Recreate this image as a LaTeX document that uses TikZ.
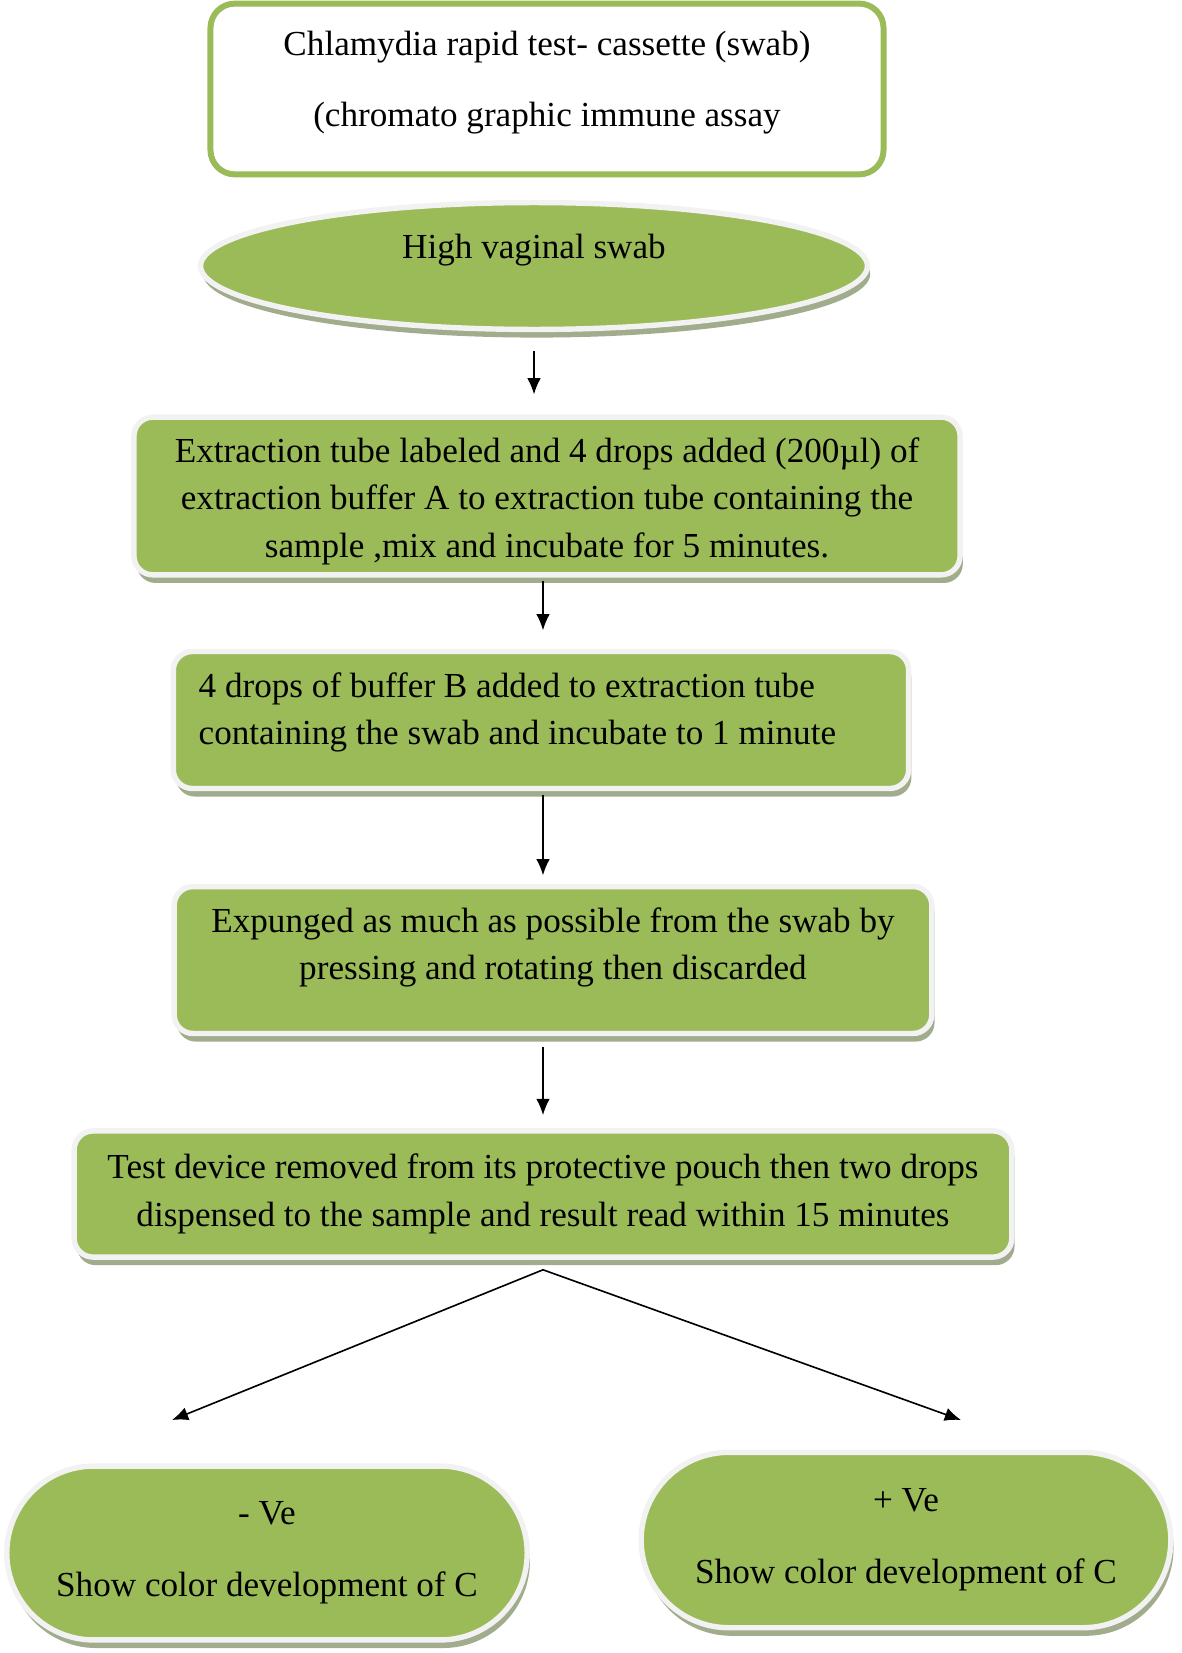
\documentclass[tikz,border=0pt]{standalone}
\usepackage{fontspec}
\setmainfont{Liberation Serif}
\usetikzlibrary{arrows.meta,shapes.geometric,shapes.misc,shadows}
\definecolor{leafgreen}{RGB}{155,187,89}
\definecolor{rimgray}{RGB}{242,242,242}
\definecolor{shadegreen}{RGB}{160,172,140}

\begin{document}
\begin{tikzpicture}[
  x=0.013cm, y=-0.013cm,
  font=\fontsize{13}{17.5}\selectfont,
  title/.style={draw=leafgreen,line width=2.2pt,fill=white,rounded corners=9pt,align=center},
  sample/.style={ellipse,draw=rimgray,line width=2pt,fill=leafgreen,
    drop shadow={shadow xshift=1pt,shadow yshift=-3pt,fill=shadegreen,opacity=1}},
  stage/.style={rectangle,rounded corners=7pt,draw=rimgray,line width=2pt,fill=leafgreen,align=center,
    drop shadow={shadow xshift=1pt,shadow yshift=-3pt,fill=shadegreen,opacity=1}},
  result/.style={rounded rectangle,draw=rimgray,line width=2pt,fill=leafgreen,align=center,
    drop shadow={shadow xshift=1pt,shadow yshift=-3pt,fill=shadegreen,opacity=1}},
  flow/.style={-{Latex[length=6pt,width=5pt]},semithick}]

  \useasboundingbox (0,0) rectangle (1181,1653);

  % Place the nodes at their positions
  \node[title,minimum width=8.75cm,minimum height=2.22cm,text depth=7.6pt] (kit) at (547,89)
    {Chlamydia rapid test- cassette (swab)\\[8.5pt](chromato graphic immune assay};
  \node[sample,minimum width=8.67cm,minimum height=1.65cm,text depth=14.8pt] (hvs) at (534,266)
    {High vaginal swab};
  \node[stage,minimum width=10.74cm,minimum height=2.05cm,text height=48pt] (ext) at (547,496)
    {Extraction tube labeled and 4 drops added (200µl) of\\extraction buffer A to extraction tube containing the\\sample ,mix and incubate for 5 minutes.};
  \node[stage,align=flush left,text width=8.9cm,minimum width=9.56cm,minimum height=1.78cm,text depth=26pt] (buf) at (541,720)
    {4 drops of buffer B added to extraction tube\\containing the swab and incubate to 1 minute};
  \node[stage,minimum width=9.85cm,minimum height=1.91cm,text depth=12.3pt] (exp) at (553,960)
    {Expunged as much as possible from the swab by\\pressing and rotating then discarded};
  \node[stage,minimum width=12.19cm,minimum height=1.64cm] (res) at (543,1194)
    {Test device removed from its protective pouch then two drops\\dispensed to the sample and result read within 15 minutes};
  \node[result,minimum width=7.0cm,minimum height=2.26cm] (neg) at (267,1553)
    {- Ve\\[9pt]Show color development of C};
  \node[result,minimum width=7.12cm,minimum height=2.28cm] (pos) at (906,1540)
    {+ Ve\\[9pt]Show color development of C};
  \coordinate (fork) at ([yshift=-0.13cm]res.south);
  \coordinate (negtip) at (172,1420);
  \coordinate (postip) at (961,1420);

  % Draw the arrows between the nodes
  \draw[flow,shorten <=0.24cm,shorten >=0.26cm] (hvs.south) -- (hvs.south |- ext.north);
  \draw[flow,shorten <=0.05cm,shorten >=0.24cm] (ext.south -| res.north) -- (buf.north -| res.north);
  \draw[flow,shorten <=0.05cm,shorten >=0.11cm] (buf.south -| res.north) -- (exp.north -| res.north);
  \draw[flow,shorten <=0.14cm,shorten >=0.17cm] (exp.south -| res.north) -- (res.north);
  \draw[flow] (fork) -- (negtip);
  \draw[flow] (fork) -- (postip);
\end{tikzpicture}
\end{document}
